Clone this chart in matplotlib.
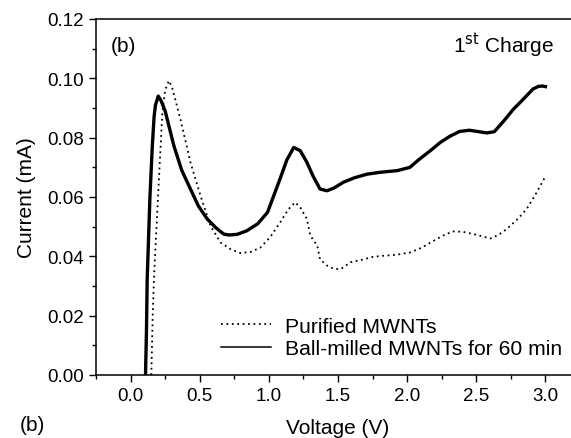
import matplotlib
matplotlib.use("Agg")
import matplotlib.pyplot as plt
from matplotlib.ticker import MultipleLocator

plt.rcParams['font.family'] = ['Liberation Sans', 'DejaVu Sans']

# purified MWNTs (dotted)
v_pur = [0.15, 0.155, 0.16, 0.17, 0.19, 0.205, 0.23, 0.25, 0.277, 0.30, 0.36, 0.433,
         0.505, 0.578, 0.65, 0.72, 0.794, 0.87, 0.94, 1.01, 1.083, 1.14, 1.19, 1.227,
         1.275, 1.30, 1.35, 1.37, 1.42, 1.47, 1.52, 1.59, 1.67, 1.75, 1.83, 1.92, 2.02,
         2.10, 2.19, 2.26, 2.33, 2.40, 2.48, 2.54, 2.60, 2.66, 2.72, 2.80, 2.865, 2.93,
         2.996]
i_pur = [0.000, 0.010, 0.020, 0.0335, 0.052, 0.066, 0.0885, 0.096, 0.0992, 0.097,
         0.0863, 0.0717, 0.0605, 0.0503, 0.0447, 0.0425, 0.0411, 0.0415, 0.043, 0.0465,
         0.0515, 0.0558, 0.0582, 0.0565, 0.0526, 0.047, 0.0436, 0.039, 0.0369, 0.0358,
         0.0357, 0.038, 0.0388, 0.0398, 0.0402, 0.0405, 0.0413, 0.0428, 0.0452, 0.047,
         0.0484, 0.0483, 0.0475, 0.0468, 0.046, 0.0472, 0.0492, 0.0526, 0.056, 0.061,
         0.0666]

# ball-milled MWNTs for 60 min (solid)
v_bm = [0.108, 0.115, 0.12, 0.14, 0.157, 0.17, 0.18, 0.20, 0.22, 0.25, 0.313, 0.37,
        0.433, 0.49, 0.554, 0.62, 0.674, 0.71, 0.77, 0.84, 0.92, 0.99, 1.08, 1.13, 1.18,
        1.227, 1.275, 1.32, 1.37, 1.42, 1.47, 1.54, 1.62, 1.71, 1.80, 1.93, 2.02, 2.09,
        2.17, 2.24, 2.31, 2.38, 2.45, 2.52, 2.575, 2.63, 2.70, 2.77, 2.82, 2.91, 2.95,
        2.98, 3.0]
i_bm = [0.000, 0.015, 0.032, 0.060, 0.077, 0.087, 0.091, 0.094, 0.0925, 0.089, 0.0773,
        0.069, 0.0627, 0.057, 0.0526, 0.0495, 0.0475, 0.0472, 0.0474, 0.0486, 0.051,
        0.0548, 0.066, 0.0725, 0.0767, 0.0756, 0.0717, 0.067, 0.0627, 0.0621, 0.063,
        0.065, 0.0665, 0.0677, 0.0683, 0.0689, 0.070, 0.0728, 0.0757, 0.0784, 0.0805,
        0.0821, 0.0825, 0.082, 0.0816, 0.082, 0.0857, 0.0897, 0.092, 0.0964, 0.0973,
        0.0974, 0.0972]

fig = plt.figure(figsize=(5.71, 4.39), dpi=100)
ax = fig.add_axes([96 / 571, 63 / 439, 484 / 571, 356 / 439])

ax.plot(v_pur, i_pur, color='black', linestyle=(0, (1, 2)), linewidth=1.3,
        label='Purified MWNTs')
ax.plot(v_bm, i_bm, color='black', linestyle='-', linewidth=2.4)
ax.plot([], [], color='black', linestyle='-', linewidth=1.1,
        label='Ball-milled MWNTs for 60 min')

ax.set_xlim(-0.25, 3.25)
ax.set_ylim(0, 0.12)
ax.xaxis.set_major_locator(MultipleLocator(0.5))
ax.xaxis.set_minor_locator(MultipleLocator(0.25))
ax.yaxis.set_major_locator(MultipleLocator(0.02))
ax.yaxis.set_minor_locator(MultipleLocator(0.01))
ax.set_xticks([0.0, 0.5, 1.0, 1.5, 2.0, 2.5, 3.0])
ax.set_xticklabels(['0.0', '0.5', '1.0', '1.5', '2.0', '2.5', '3.0'])
ax.set_yticklabels(['%.2f' % t for t in ax.get_yticks()])
ax.tick_params(which='major', direction='out', length=5, width=1, labelsize=13.5,
               pad=4, top=False, right=False)
ax.tick_params(which='minor', direction='out', length=3, width=1, top=False, right=False)
ax.spines['right'].set_visible(False)
for s in ['left', 'bottom', 'top']:
    ax.spines[s].set_linewidth(1.1)

ax.set_xlabel('Voltage (V)', fontsize=15, labelpad=10)
ax.set_ylabel('Current (mA)', fontsize=15, labelpad=8)

ax.text(0.03, 0.925, '(b)', transform=ax.transAxes, fontsize=15, va='center')
ax.text(3.065, 0.1115, r'1$^{\rm st}$ Charge', fontsize=15, ha='right', va='center')
fig.text(20 / 571, 1 - 426 / 439, '(b)', fontsize=15, va='center')

ax.legend(loc='lower left', bbox_to_anchor=(0.24, 0.024), frameon=False, fontsize=15.2,
          handlelength=2.4, handletextpad=0.63, labelspacing=0.15, borderaxespad=0)

fig.savefig('out.png', dpi=100)
